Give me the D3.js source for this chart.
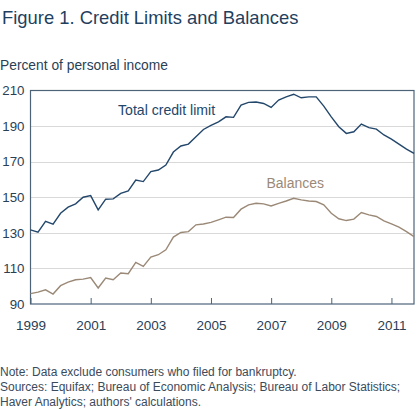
<!DOCTYPE html>
<html>
<head>
<meta charset="utf-8">
<script src="https://cdn.jsdelivr.net/npm/d3@7"></script>
<style>
  body { margin: 0; background: #fff; }
  svg { display: block; font-family: "Liberation Sans", Arial, sans-serif; }
</style>
</head>
<body>
<svg id="chart" width="420" height="409"></svg>
<script>
// quarterly series, 1999Q1 .. 2011Q4, percent of personal income
const startYear = 1999;
const creditLimit = [
  131.7, 130.4, 136.4, 134.9, 141.0, 144.4, 146.3, 150.0,
  150.9, 142.9, 148.9, 149.1, 152.2, 153.6, 159.7, 158.8,
  164.4, 165.3, 168.1, 175.4, 178.8, 179.9, 184.0, 188.1,
  190.4, 192.4, 195.2, 194.9, 201.8, 203.3, 203.5, 202.7,
  200.5, 204.6, 206.4, 207.9, 205.9, 206.4, 206.4, 201.2,
  195.2, 189.6, 185.9, 186.8, 191.1, 189.1, 188.3, 185.0,
  182.7, 179.9, 177.1, 174.7
];
const balances = [
  95.8, 96.7, 98.0, 95.6, 100.3, 102.3, 103.6, 104.0,
  104.9, 99.0, 104.6, 103.6, 107.4, 107.0, 113.4, 111.1,
  116.4, 117.7, 120.5, 127.6, 130.2, 130.7, 134.5, 135.0,
  135.9, 137.3, 138.8, 138.6, 143.3, 145.7, 146.6, 146.3,
  145.1, 146.6, 147.9, 149.4, 148.5, 147.9, 147.6, 145.7,
  141.0, 137.9, 136.9, 137.7, 141.4, 140.1, 139.2, 136.7,
  135.0, 133.2, 130.7, 127.9
];
const yTicks = [90, 110, 130, 150, 170, 190, 210];
const xTicks = [1999, 2001, 2003, 2005, 2007, 2009, 2011];
const notes = [
  "Note: Data exclude consumers who filed for bankruptcy.",
  "Sources: Equifax; Bureau of Economic Analysis; Bureau of Labor Statistics;",
  "Haver Analytics; authors' calculations."
];

const svg = d3.select("#chart");
const plot = { left: 30.5, right: 414, top: 90.5, bottom: 304 };

const x = d3.scaleLinear()
  .domain([startYear, startYear + (creditLimit.length - 1) / 4])
  .range([plot.left, plot.right]);
const y = d3.scaleLinear().domain([90, 210]).range([plot.bottom, plot.top]);

const navy = "#23476b";
const brown = "#9b8977";
const frame = "#4d6378";

svg.append("text")
  .attr("x", 2).attr("y", 24)
  .attr("font-size", 18.4)
  .attr("fill", "#1f3f5f")
  .text("Figure 1. Credit Limits and Balances");

svg.append("text")
  .attr("x", 0).attr("y", 70)
  .attr("font-size", 13.8)
  .attr("fill", "#2a3f55")
  .text("Percent of personal income");

// gridlines
svg.append("g")
  .selectAll("line")
  .data(yTicks.slice(1, -1))
  .join("line")
  .attr("x1", plot.left).attr("x2", plot.right)
  .attr("y1", d => Math.round(y(d)) + 0.5)
  .attr("y2", d => Math.round(y(d)) + 0.5)
  .attr("stroke", "#d9d9d9")
  .attr("stroke-width", 1);

// y axis labels
const yAxis = d3.axisLeft(y).tickValues(yTicks).tickSize(0).tickPadding(6);
svg.append("g")
  .attr("transform", `translate(${plot.left},0)`)
  .call(yAxis)
  .call(g => g.select(".domain").remove())
  .call(g => g.selectAll("text")
    .attr("font-size", 13.3).attr("fill", "#2a3f55")
    .attr("font-family", "Liberation Sans, Arial, sans-serif"));

// x axis, ticks pointing up into the plot
const xAxis = d3.axisBottom(x).tickValues(xTicks).tickFormat(d3.format("d"))
  .tickSizeInner(-6).tickSizeOuter(0).tickPadding(16);
svg.append("g")
  .attr("transform", `translate(0,${plot.bottom})`)
  .call(xAxis)
  .call(g => g.select(".domain").remove())
  .call(g => g.selectAll("line").attr("stroke", frame))
  .call(g => g.selectAll("text")
    .attr("font-size", 13.5).attr("fill", "#2a3f55")
    .attr("font-family", "Liberation Sans, Arial, sans-serif"));

// frame
svg.append("rect")
  .attr("x", plot.left).attr("y", plot.top)
  .attr("width", plot.right - plot.left)
  .attr("height", plot.bottom - plot.top)
  .attr("fill", "none")
  .attr("stroke", frame)
  .attr("stroke-width", 1.2);

const line = d3.line()
  .x((d, i) => x(startYear + i / 4))
  .y(d => y(d));

svg.append("path")
  .datum(balances)
  .attr("d", line)
  .attr("fill", "none")
  .attr("stroke", brown)
  .attr("stroke-width", 1.4);

svg.append("path")
  .datum(creditLimit)
  .attr("d", line)
  .attr("fill", "none")
  .attr("stroke", navy)
  .attr("stroke-width", 1.4);

svg.append("text")
  .attr("x", 118).attr("y", 115)
  .attr("font-size", 14.1)
  .attr("fill", navy)
  .text("Total credit limit");

svg.append("text")
  .attr("x", 266.5).attr("y", 187.5)
  .attr("font-size", 14)
  .attr("fill", brown)
  .text("Balances");

svg.append("g")
  .selectAll("text")
  .data(notes)
  .join("text")
  .attr("x", 0)
  .attr("y", (d, i) => 376 + i * 15)
  .attr("font-size", 12)
  .attr("fill", "#3b4b5c")
  .text(d => d);
</script>
</body>
</html>
